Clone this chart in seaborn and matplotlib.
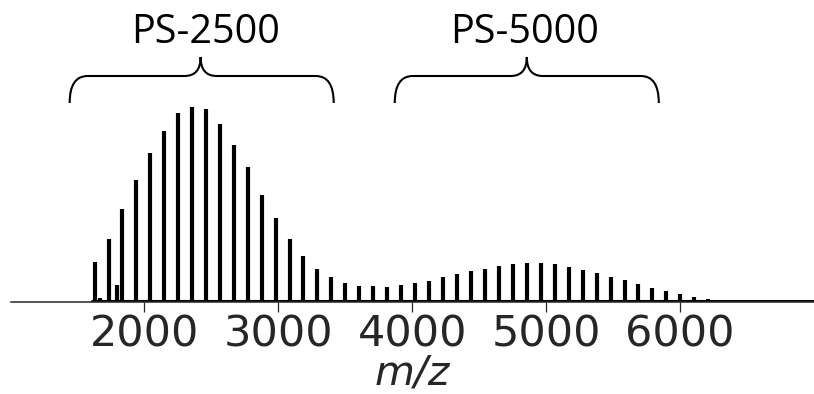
import numpy as np
import pandas as pd
import matplotlib
matplotlib.use("Agg")
import matplotlib.pyplot as plt
from matplotlib.path import Path
from matplotlib.patches import PathPatch
import seaborn as sns

# ---- data ----
peak_mz = [1628, 1733, 1835, 1940, 2041, 2146, 2250, 2355, 2459, 2564,
           2666, 2771, 2875, 2980, 3084, 3187, 3291, 3396, 3500, 3605,
           3709, 3814, 3919, 4020, 4125, 4229, 4334, 4438, 4543, 4647,
           4752, 4857, 4961, 5066, 5168, 5273, 5377, 5482, 5586, 5689,
           5793, 5898, 6002, 6107, 6208, 6313, 6418]
peak_int = [40, 63, 93, 122.5, 149, 171, 189.5, 195.5, 193, 178.5,
            157.5, 135.5, 107.5, 84.5, 63.5, 46.5, 33.5, 25, 19.5, 16.5,
            16, 15.5, 17, 19, 20.7, 24.7, 28, 30.7, 33, 35.7,
            38.3, 38.7, 38.7, 37.7, 34.7, 31.7, 28.7, 24.7, 21.7, 17.7,
            14.3, 10.7, 7.7, 4.7, 3.3, 1.7, 0.7]
minor_mz = [1665, 1797]
minor_int = [4, 17.5]
baseline_range = [1606, 7000]

group_labels = ["PS-2500", "PS-5000"]
group_label_x = [2455, 4840]
bracket_left = [1441, 3869]
bracket_right = [3413, 5841]
bracket_tip = [2419, 4855]
xticks = [2000, 3000, 4000, 5000, 6000]

# ---- figure ----
sns.set_theme(style="ticks")
plt.rcParams["font.family"] = ["DejaVu Sans"]

fig = plt.figure(figsize=(8.14, 3.94), dpi=100)
ax = fig.add_axes([10.6 / 814, 92 / 394, 803.4 / 814, 302 / 394])

rows = []
for i, (m, h) in enumerate(zip(peak_mz + minor_mz, peak_int + minor_int)):
    rows.append({"mz": m, "intensity": 0.0, "peak": i})
    rows.append({"mz": m, "intensity": h, "peak": i})
df = pd.DataFrame(rows)

sns.lineplot(data=df, x="mz", y="intensity", units="peak", estimator=None,
             sort=False, color="black", lw=3, solid_capstyle="butt", ax=ax)

base = pd.DataFrame({"mz": baseline_range, "intensity": [1.0, 1.0]})
sns.lineplot(data=base, x="mz", y="intensity", color="black", lw=2.2, ax=ax)

ax.set_xlim(1000, 7000)
ax.set_ylim(0, 302)
ax.set_xticks(xticks)
ax.set_xticklabels([str(t) for t in xticks])
ax.set_yticks([])
ax.set_ylabel("")
ax.set_xlabel("m/z", fontsize=29.5, style="italic", color=".15", labelpad=-1)
ax.tick_params(axis="x", labelsize=31, length=7.5, width=0.9, pad=0.5,
               colors=".15")
sns.despine(ax=ax, left=True, top=True, right=True)
ax.spines["bottom"].set_linewidth(1.1)
ax.spines["bottom"].set_color(".15")
ax.patch.set_alpha(0)

# brackets
yb, yh, yt = 199, 226, 245
r_end, r_tip = 134, 120
for x0, x1, xt, lab, lx in zip(bracket_left, bracket_right, bracket_tip,
                               group_labels, group_label_x):
    verts = [(x0, yb), (x0, yh), (x0 + r_end, yh),
             (xt - r_tip, yh),
             (xt, yh), (xt, yt),
             (xt, yh), (xt + r_tip, yh),
             (x1 - r_end, yh),
             (x1, yh), (x1, yb)]
    codes = [Path.MOVETO, Path.CURVE3, Path.CURVE3,
             Path.LINETO,
             Path.CURVE3, Path.CURVE3,
             Path.CURVE3, Path.CURVE3,
             Path.LINETO,
             Path.CURVE3, Path.CURVE3]
    ax.add_patch(PathPatch(Path(verts, codes), facecolor="none",
                           edgecolor="black", lw=1.5, clip_on=False))
    ax.text(lx, 259, lab, ha="center", va="baseline", fontsize=28.5,
            family=["Open Sans", "DejaVu Sans"], color="black", clip_on=False)

fig.savefig("out.png", dpi=100)
